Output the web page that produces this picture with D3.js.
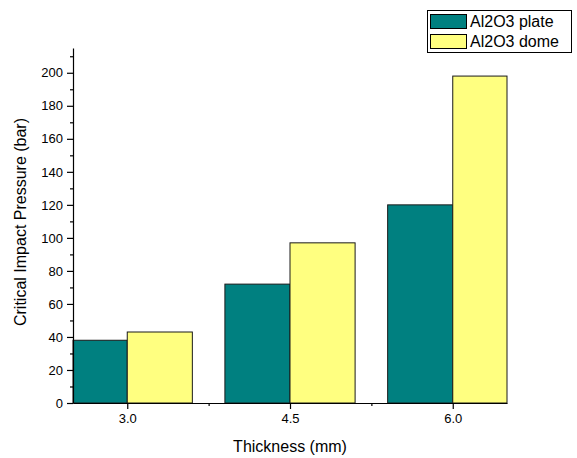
<!DOCTYPE html>
<html>
<head>
<meta charset="utf-8">
<script src="https://cdn.jsdelivr.net/npm/d3@7"></script>
<style>
  body { margin: 0; background: #fff; }
  text { font-family: "Liberation Sans", Arial, sans-serif; fill: #000; }
</style>
</head>
<body>
<div class="chart"></div>
<script>
// Data.
const thickness = [3.0, 4.5, 6.0];
const plateValues = [38, 72, 120];
const domeValues = [43, 97, 198];
const seriesNames = ["Al2O3 plate", "Al2O3 dome"];
const yTicks = [0, 20, 40, 60, 80, 100, 120, 140, 160, 180, 200];
const xTicks = [3.0, 4.5, 6.0];

const colors = ["#008080", "#ffff80"];

// Margin convention.
const W = 577, H = 458;
const margin = { top: 48, right: 70, bottom: 55, left: 73 };
const width = W - margin.left - margin.right;
const height = H - margin.top - margin.bottom;

const svg = d3
  .select(".chart")
  .append("svg")
  .attr("width", W)
  .attr("height", H);

const g = svg
  .append("g")
  .attr("transform", `translate(${margin.left}, ${margin.top})`);

// Scales.
const xScale = d3.scaleLinear().domain([2.5, 6.5]).range([0, width]);
const yScale = d3.scaleLinear().domain([0, 215]).range([height, 0]);

const barW = 0.6;
const clampX = (v) => Math.max(2.5, Math.min(6.5, v));

// Draw bars.
const series = [plateValues, domeValues];
series.forEach((vals, s) => {
  g.selectAll(".bar-" + s)
    .data(vals)
    .enter()
    .append("rect")
    .attr("class", "bar-" + s)
    .attr("x", (d, i) => {
      const x0 = s === 0 ? thickness[i] - barW : thickness[i];
      return xScale(clampX(x0));
    })
    .attr("width", (d, i) => {
      const x0 = s === 0 ? thickness[i] - barW : thickness[i];
      return xScale(clampX(x0 + barW)) - xScale(clampX(x0));
    })
    .attr("y", (d) => yScale(d))
    .attr("height", (d) => height - yScale(d))
    .style("fill", colors[s])
    .style("stroke", "#1a1a1a")
    .style("stroke-width", 1);
});

// Draw axes.
const xAxis = d3
  .axisBottom(xScale)
  .tickValues(xTicks)
  .tickFormat(d3.format(".1f"))
  .tickSizeOuter(0)
  .tickSizeInner(6);
const xAxisDraw = g
  .append("g")
  .attr("class", "x axis")
  .attr("transform", `translate(0, ${height})`)
  .call(xAxis);
xAxisDraw
  .selectAll("text")
  .attr("y", 11)
  .attr("dy", "0.71em")
  .style("font-size", "13px")
  .style("font-family", "Liberation Sans, Arial, sans-serif");

// minor x ticks
const xMinor = g
  .append("g")
  .attr("transform", `translate(0, ${height})`)
  .call(d3.axisBottom(xScale).tickValues([3.75, 5.25]).tickSizeInner(3).tickSizeOuter(0).tickFormat(""));
xMinor.select(".domain").remove();

const yAxis = d3
  .axisLeft(yScale)
  .tickValues(yTicks)
  .tickSizeOuter(0)
  .tickSizeInner(6);
const yAxisDraw = g.append("g").attr("class", "y axis").call(yAxis);
yAxisDraw
  .selectAll("text")
  .attr("x", -10)
  .style("font-size", "13px")
  .style("font-family", "Liberation Sans, Arial, sans-serif");

// minor y ticks
const yMinor = g
  .append("g")
  .call(
    d3.axisLeft(yScale)
      .tickValues(d3.range(10, 215, 20))
      .tickSizeInner(3)
      .tickSizeOuter(0)
      .tickFormat("")
  );
yMinor.select(".domain").remove();

svg.selectAll(".domain, .tick line").attr("stroke", "#000").attr("stroke-width", 1.2);

// Axis titles.
svg
  .append("text")
  .attr("x", margin.left + xScale(4.5))
  .attr("y", 452)
  .attr("text-anchor", "middle")
  .style("font-size", "16px")
  .text("Thickness (mm)");

svg
  .append("text")
  .attr("transform", `translate(26, 222) rotate(-90)`)
  .attr("text-anchor", "middle")
  .style("font-size", "16px")
  .text("Critical Impact Pressure (bar)");

// Legend.
const legend = svg.append("g").attr("class", "legend");
legend
  .append("rect")
  .attr("x", 427.5)
  .attr("y", 10.5)
  .attr("width", 144)
  .attr("height", 42)
  .style("fill", "#fff")
  .style("stroke", "#000");

seriesNames.forEach((name, i) => {
  legend
    .append("rect")
    .attr("x", 430.5)
    .attr("y", 14.5 + i * 20)
    .attr("width", 36)
    .attr("height", 14)
    .style("fill", colors[i])
    .style("stroke", "#000");
  legend
    .append("text")
    .attr("x", 470)
    .attr("y", 27 + i * 20)
    .style("font-size", "16px")
    .text(name);
});
</script>
</body>
</html>
